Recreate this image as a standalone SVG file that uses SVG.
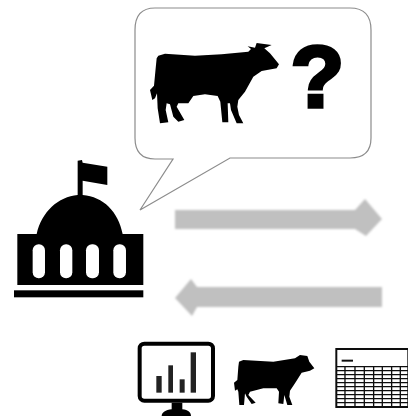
<svg xmlns="http://www.w3.org/2000/svg" width="408" height="417" viewBox="0 0 408 417">
<defs>
<filter id="soft" x="-10%" y="-10%" width="120%" height="120%"><feGaussianBlur stdDeviation="0.6"/></filter>
<filter id="softer" x="-10%" y="-30%" width="120%" height="160%"><feGaussianBlur stdDeviation="1"/></filter>
</defs>
<rect width="408" height="417" fill="#fff"/>
<g id="connectors" filter="url(#softer)" fill="#c0c0c0">
<path d="M175 210 H355 L365 199 L382 219 L366 236 L355 229 H175 Z"/>
<path d="M382 287 H197 L191 279 L175 298 L192 316 L197 307 H382 Z"/>
</g>
<g id="speech-bubble" filter="url(#soft)">
<path d="M155 8 H350 Q371 8 371 30 V138 Q371 158 350 158 H230 L140 210 L173 159 H155 Q135 159 135 138 V30 Q135 8 155 8 Z" fill="#fff" stroke="#8c8c8c" stroke-width="1.2"/>
<path transform="translate(145 35) scale(.3333)" fill="#000" d="M40 62 L60 56 L150 62 L230 58 L310 50 L318 42 L308 34 L330 38 L335 24 L380 30 L358 40 L375 55 L402 88 L395 100 L350 108 L325 125 L300 170 L280 195 L277 215 L282 240 L295 265 L275 265 L258 225 L255 205 L248 205 L250 262 L232 262 L226 200 L218 183 L180 178 L145 183 L130 205 L100 205 L95 215 L118 255 L100 260 L85 245 L75 208 L65 205 L62 225 L70 262 L45 265 L38 220 L36 175 L30 190 L22 195 L15 165 L27 152 L32 100 L35 70 Z"/>
<text x="317.500" y="107" text-anchor="middle" font-family="'Liberation Sans', Arial, sans-serif" font-weight="700" font-size="88" fill="#000" stroke="#000" stroke-width="3.500">?</text>
</g>
<g id="capitol" filter="url(#soft)" transform="translate(0 150) scale(.3333)">
<path d="M233 32 L246 30 L248 38 L322 50 L322 105 L248 92 V135 C310 140 355 185 368 252 H430 V405 H52 V252 H110 C125 185 175 140 233 135 Z" fill="#000"/>
<rect x="42" y="421" width="388" height="21" fill="#000"/>
<g fill="#fff">
<rect x="98" y="283" width="37" height="102" rx="18"/>
<rect x="180" y="283" width="37" height="102" rx="18"/>
<rect x="258" y="283" width="39" height="102" rx="18"/>
<rect x="340" y="283" width="38" height="102" rx="18"/>
</g>
</g>
<g id="monitor" filter="url(#soft)" transform="translate(125 330) scale(.3333)">
<rect x="44" y="41" width="220" height="171" rx="14" fill="#fff" stroke="#000" stroke-width="12"/>
<path d="M140 218 H172 V238 C190 240 198 248 198 258 H110 C110 248 122 240 140 238 Z" fill="#000"/>
<g fill="#222">
<rect x="94" y="138" width="16" height="50"/>
<rect x="130" y="106" width="14" height="82"/>
<rect x="164" y="148" width="15" height="40"/>
<rect x="197" y="67" width="16" height="121"/>
</g>
</g>
<g id="cow-small" filter="url(#soft)">
<path transform="translate(230 350) scale(.3333)" fill="#000" d="M27 35 L40 30 L130 35 L195 25 L210 15 L232 18 L238 35 L253 55 L240 62 L215 68 L195 100 L180 122 L178 140 L187 165 L172 165 L163 135 L160 162 L145 160 L147 125 L140 115 L100 115 L60 125 L55 135 L77 158 L65 162 L50 140 L45 130 L42 165 L28 165 L25 125 L22 118 L15 122 L12 98 L22 90 L25 50 Z"/>
</g>
<g id="table" filter="url(#soft)" transform="translate(125 330) scale(.3333)" fill="none" stroke="#111">
<rect x="634" y="57" width="216" height="174" stroke-width="6" fill="#fff"/>
<path d="M650 92 H684" stroke-width="6"/>
<path d="M636 110 H850 M636 122 H850 M636 134 H850 M636 146 H850 M636 158 H850 M636 170 H850 M636 182 H850 M636 194 H850 M636 206 H850 M636 218 H850" stroke-width="4"/>
<path d="M660 110 V230 M690 110 V230 M718 110 V230 M746 110 V230 M772 110 V230 M800 110 V230 M826 110 V230" stroke-width="4"/>
</g>
</svg>
